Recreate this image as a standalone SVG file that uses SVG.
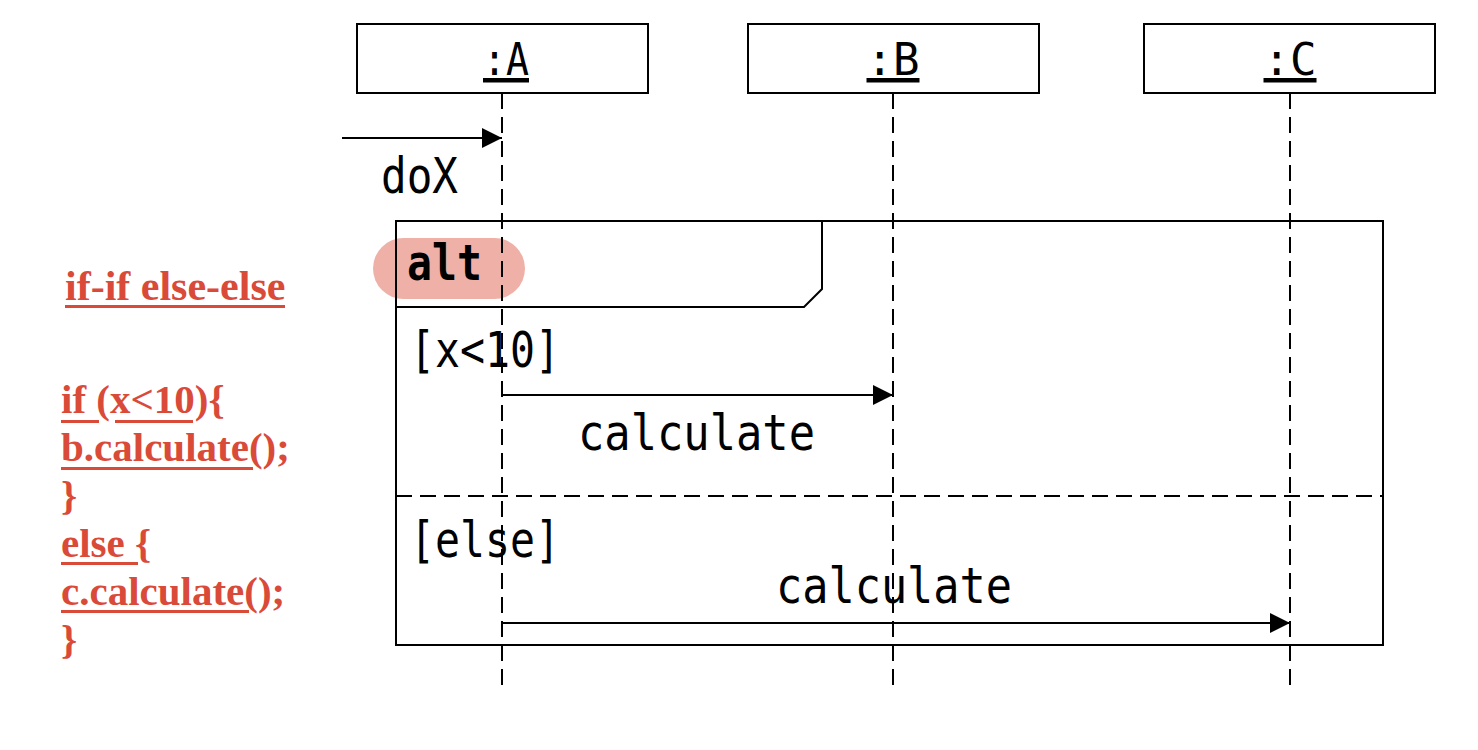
<svg xmlns="http://www.w3.org/2000/svg" width="1478" height="750" viewBox="0 0 1478 750">
<defs>
<marker id="arrow" markerWidth="20" markerHeight="20" refX="20" refY="10" orient="auto" markerUnits="userSpaceOnUse">
<path d="M0,0 L20,10 L0,20 Z" fill="#000"/>
</marker>
<style>
.box{fill:#fff;stroke:#000;stroke-width:2}
.life{stroke:#000;stroke-width:2;stroke-dasharray:16 8;fill:none}
.msg{stroke:#000;stroke-width:2;fill:none;marker-end:url(#arrow)}
.frame{fill:none;stroke:#000;stroke-width:2}
.mono{font-family:"DejaVu Sans Mono","Liberation Mono",monospace;font-size:50px;fill:#000}
.hdr{font-family:"DejaVu Sans Mono","Liberation Mono",monospace;font-size:45px;fill:#000;text-anchor:middle;text-decoration:underline}
.red{font-family:"Liberation Serif","Times New Roman",serif;font-weight:bold;font-size:41px;fill:#da4a39}
.ul{fill:#da4a39}
</style>
</defs>
<rect x="0" y="0" width="1478" height="750" fill="#fff"/>

<g id="frame-alt">
<rect x="373" y="238" width="152" height="61" rx="30.5" fill="#efb0a8"/>
<rect class="frame" x="396" y="221" width="987" height="424"/>
<path class="frame" d="M396,307 L804,307 L822,289 L822,221"/>
<line class="life" x1="396" y1="496" x2="1383" y2="496"/>
<text class="mono" x="407" y="280" font-weight="bold" textLength="75" lengthAdjust="spacingAndGlyphs">alt</text>
<text class="mono" x="410" y="367" textLength="150" lengthAdjust="spacingAndGlyphs">[x&lt;10]</text>
<text class="mono" x="410" y="557" textLength="150" lengthAdjust="spacingAndGlyphs">[else]</text>
</g>

<g id="node-A">
<rect class="box" x="357" y="24" width="291" height="69"/>
<text class="hdr" x="506" y="75" textLength="46" lengthAdjust="spacingAndGlyphs">:A</text>
<line class="life" x1="502" y1="93" x2="502" y2="685"/>
</g>
<g id="node-B">
<rect class="box" x="748" y="24" width="291" height="69"/>
<text class="hdr" x="893" y="75" textLength="53" lengthAdjust="spacingAndGlyphs">:B</text>
<line class="life" x1="893" y1="93" x2="893" y2="685"/>
</g>
<g id="node-C">
<rect class="box" x="1144" y="24" width="291" height="69"/>
<text class="hdr" x="1290" y="75" textLength="53" lengthAdjust="spacingAndGlyphs">:C</text>
<line class="life" x1="1290" y1="93" x2="1290" y2="685"/>
</g>

<g id="connectors">
<line class="msg" x1="342" y1="138" x2="502" y2="138"/>
<text class="mono" x="381" y="193" textLength="77" lengthAdjust="spacingAndGlyphs">doX</text>
<line class="msg" x1="502" y1="395" x2="893" y2="395"/>
<text class="mono" x="578" y="450" textLength="237" lengthAdjust="spacingAndGlyphs">calculate</text>
<line class="msg" x1="502" y1="623" x2="1290" y2="623"/>
<text class="mono" x="776" y="603" textLength="236" lengthAdjust="spacingAndGlyphs">calculate</text>
</g>

<g id="code">
<text class="red" x="65" y="300" style="font-size:42px">if-if else-else</text>
<rect class="ul" x="65" y="305" width="220" height="3"/>
<text class="red" x="61" y="413">if (x&lt;10){</text>
<rect class="ul" x="61" y="420" width="38" height="3"/>
<rect class="ul" x="115" y="420" width="78" height="3"/>
<text class="red" x="61" y="461">b.calculate();</text>
<rect class="ul" x="61" y="467" width="192" height="3"/>
<text class="red" x="61" y="509">}</text>
<text class="red" x="61" y="557">else {</text>
<rect class="ul" x="61" y="562" width="77" height="3"/>
<text class="red" x="61" y="605">c.calculate();</text>
<rect class="ul" x="61" y="610" width="188" height="3"/>
<text class="red" x="61" y="653">}</text>
</g>
</svg>
